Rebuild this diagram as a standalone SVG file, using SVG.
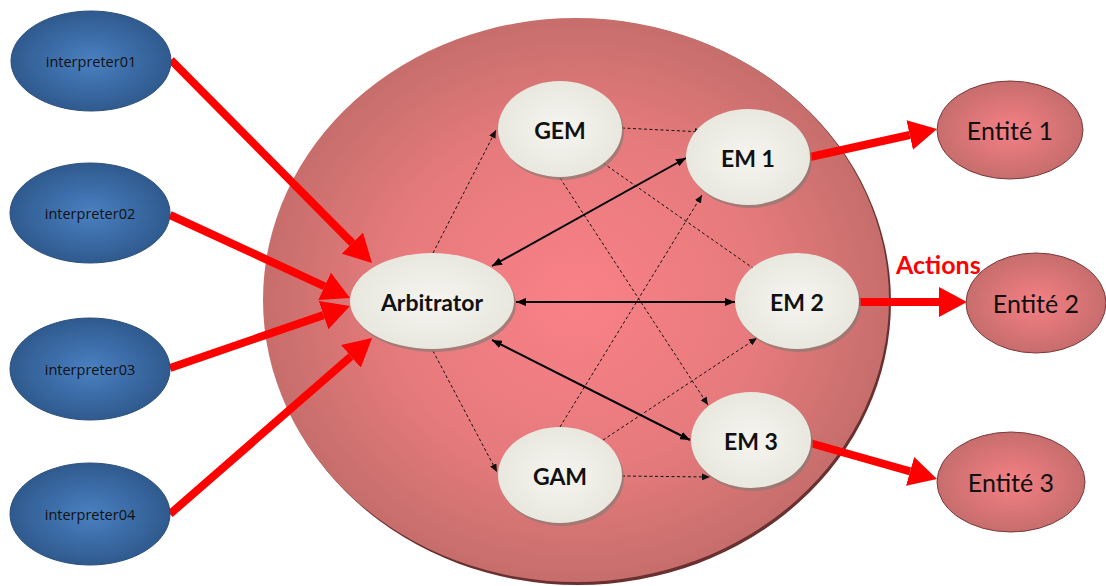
<svg xmlns="http://www.w3.org/2000/svg" width="1106" height="586" viewBox="0 0 1106 586">
<defs>
<radialGradient id="bigG" cx="0.5" cy="0.5" r="0.5">
<stop offset="0" stop-color="#f98188"/>
<stop offset="0.6" stop-color="#e67a7c"/>
<stop offset="1" stop-color="#c66e6c"/>
</radialGradient>
<radialGradient id="blueG" cx="0.5" cy="0.5" r="0.5">
<stop offset="0" stop-color="#4a80c2"/>
<stop offset="1" stop-color="#2f5a8e"/>
</radialGradient>
<radialGradient id="entG" cx="0.5" cy="0.5" r="0.5">
<stop offset="0" stop-color="#f58085"/>
<stop offset="1" stop-color="#c76d6d"/>
</radialGradient>
<radialGradient id="whiteG" cx="0.5" cy="0.5" r="0.5">
<stop offset="0" stop-color="#f5f4ef"/>
<stop offset="1" stop-color="#e9e8df"/>
</radialGradient>
<marker id="redHead" markerUnits="userSpaceOnUse" markerWidth="28" markerHeight="30" viewBox="0 0 28 30" refX="0" refY="15" orient="auto">
<path d="M0,0 L28,15 L0,30 z" fill="#ff0000"/>
</marker>
<marker id="blackHead" markerUnits="userSpaceOnUse" markerWidth="10" markerHeight="8" viewBox="0 0 10 8" refX="10" refY="4" orient="auto-start-reverse">
<path d="M0,0 L10,4 L0,8 z" fill="#000"/>
</marker>
<marker id="dashHead" markerUnits="userSpaceOnUse" markerWidth="8" markerHeight="7" viewBox="0 0 8 7" refX="8" refY="3.5" orient="auto">
<path d="M0,0 L8,3.5 L0,7 z" fill="#111"/>
</marker>
</defs>
<style>
.interp{fill:url(#blueG);stroke:#2c4f7c;stroke-width:1}
.interpT{font-family:"Open Sans","Noto Sans",sans-serif;font-size:14.5px;fill:#111;text-anchor:middle;dominant-baseline:central}
.node{fill:url(#whiteG)}
.shadow{fill:#8a7a74;opacity:0.7}
.nodeT{font-family:"Lato","Open Sans",sans-serif;font-weight:bold;font-size:23px;fill:#111;text-anchor:middle;dominant-baseline:central}
.ent{fill:url(#entG);stroke:#7a3a3a;stroke-width:1}
.entT{font-family:"Lato","Open Sans",sans-serif;font-size:25px;fill:#111;text-anchor:middle;dominant-baseline:central}
.red{stroke:#ff0000;stroke-width:8;fill:none;marker-end:url(#redHead)}
.blk{stroke:#000;stroke-width:2;fill:none;marker-start:url(#blackHead);marker-end:url(#blackHead)}
.dash{stroke:#111;stroke-width:1;stroke-dasharray:3,2.5;fill:none;marker-end:url(#dashHead)}
</style>
<rect width="1106" height="586" fill="#ffffff"/>
<g id="system">
<ellipse cx="578" cy="302" rx="313" ry="283" fill="#6a3030"/>
<ellipse cx="576" cy="300" rx="313" ry="282" fill="url(#bigG)"/>
</g>
<g id="connectors">
<line class="dash" x1="433" y1="253" x2="496" y2="130"/>
<line class="dash" x1="433" y1="351" x2="497" y2="472"/>
<line class="dash" x1="622" y1="128" x2="703" y2="132"/>
<line class="dash" x1="603" y1="163" x2="760" y2="273"/>
<line class="dash" x1="560" y1="178" x2="708" y2="405"/>
<line class="dash" x1="560" y1="427" x2="702" y2="195"/>
<line class="dash" x1="603" y1="440" x2="757" y2="338"/>
<line class="dash" x1="622" y1="476" x2="710" y2="477"/>
<line class="blk" x1="492" y1="266" x2="686" y2="158"/>
<line class="blk" x1="516" y1="302" x2="735" y2="302"/>
<line class="blk" x1="492" y1="340" x2="690" y2="440"/>
<line class="red" x1="171" y1="60" x2="352.3" y2="243.1"/>
<line class="red" x1="170" y1="215" x2="324.6" y2="286.3"/>
<line class="red" x1="170" y1="368" x2="323.5" y2="315.1"/>
<line class="red" x1="170" y1="514" x2="350.9" y2="356.4"/>
<line class="red" x1="810" y1="157" x2="909.7" y2="135"/>
<line class="red" x1="858" y1="302" x2="939" y2="302"/>
<line class="red" x1="810" y1="443" x2="910.1" y2="471.4"/>
</g>
<g id="interpreter01"><ellipse class="interp" cx="91" cy="61" rx="80" ry="50"/><text class="interpT" x="91" y="61">interpreter01</text></g>
<g id="interpreter02"><ellipse class="interp" cx="90" cy="213" rx="80" ry="50"/><text class="interpT" x="90" y="213">interpreter02</text></g>
<g id="interpreter03"><ellipse class="interp" cx="90" cy="369" rx="80" ry="51"/><text class="interpT" x="90" y="369">interpreter03</text></g>
<g id="interpreter04"><ellipse class="interp" cx="90" cy="514" rx="80" ry="51"/><text class="interpT" x="90" y="514">interpreter04</text></g>
<g id="arbitrator"><ellipse class="shadow" cx="434" cy="304" rx="82" ry="48"/><ellipse class="node" cx="432" cy="301" rx="82" ry="48"/><text class="nodeT" x="432" y="302">Arbitrator</text></g>
<g id="gem"><ellipse class="shadow" cx="562" cy="132" rx="62" ry="48"/><ellipse class="node" cx="560" cy="129" rx="62" ry="48"/><text class="nodeT" x="560" y="130">GEM</text></g>
<g id="gam"><ellipse class="shadow" cx="562" cy="478" rx="62" ry="48"/><ellipse class="node" cx="560" cy="475" rx="62" ry="48"/><text class="nodeT" x="560" y="476">GAM</text></g>
<g id="em1"><ellipse class="shadow" cx="750" cy="160" rx="62" ry="48"/><ellipse class="node" cx="748" cy="157" rx="62" ry="48"/><text class="nodeT" x="748" y="158">EM 1</text></g>
<g id="em2"><ellipse class="shadow" cx="799" cy="304" rx="62" ry="48"/><ellipse class="node" cx="797" cy="301" rx="62" ry="48"/><text class="nodeT" x="797" y="302">EM 2</text></g>
<g id="em3"><ellipse class="shadow" cx="753" cy="443" rx="60" ry="48"/><ellipse class="node" cx="751" cy="440" rx="60" ry="48"/><text class="nodeT" x="751" y="441">EM 3</text></g>
<g id="entite1"><ellipse class="ent" cx="1010" cy="130" rx="73" ry="49"/><text class="entT" x="1010" y="130">Entité 1</text></g>
<g id="entite2"><ellipse class="ent" cx="1036" cy="303" rx="70" ry="50"/><text class="entT" x="1036" y="303">Entité 2</text></g>
<g id="entite3"><ellipse class="ent" cx="1011" cy="482" rx="74" ry="50"/><text class="entT" x="1011" y="482">Entité 3</text></g>
<g id="actions-label"><text x="896" y="274" font-family="Lato, 'Open Sans', sans-serif" font-weight="bold" font-size="25" fill="#ff0000">Actions</text></g>
</svg>
